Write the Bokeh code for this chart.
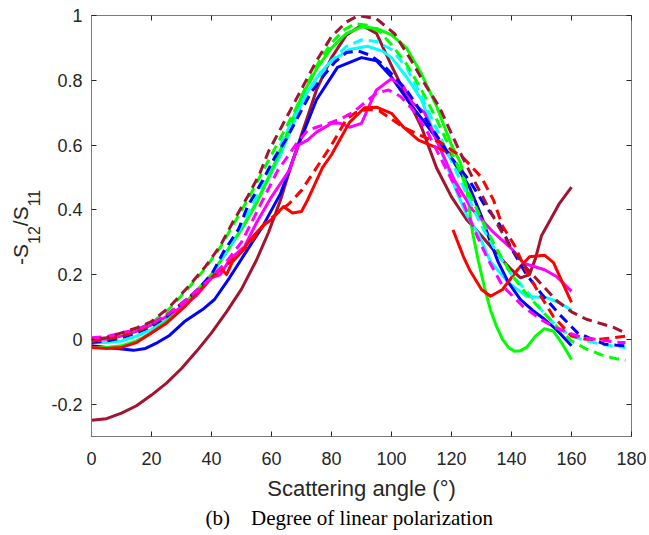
from bokeh.plotting import figure
from bokeh.models import LinearAxis, FixedTicker, Range1d, Title, Div
from bokeh.layouts import row
from bokeh.embed import file_html
from bokeh.resources import INLINE

nan = float("nan")

# ---------------- data ----------------
X_TICKS = [0, 20, 40, 60, 80, 100, 120, 140, 160, 180]
Y_TICKS = [-0.2, 0, 0.2, 0.4, 0.6, 0.8, 1.0]
Y_TICK_LABELS = ["-0.2", "0", "0.2", "0.4", "0.6", "0.8", "1"]

# solid curves (0-160 deg)
maroon_solid_x = [0, 5, 10, 15, 20, 25, 30, 35, 40, 45, 50, 55, 59, 63, 67, 71, 75, 80, 85, 90, 95, 100, 105, 110, 115, 120, 125, 130, 135, 140, 143, 146, 148, 150, 153, 156, 160]
maroon_solid_y = [-0.25, -0.245, -0.228, -0.205, -0.172, -0.135, -0.09, -0.037, 0.02, 0.085, 0.155, 0.245, 0.33, 0.43, 0.55, 0.66, 0.77, 0.87, 0.94, 0.97, 0.945, 0.845, 0.75, 0.655, 0.53, 0.44, 0.37, 0.32, 0.265, 0.215, 0.19, 0.2, 0.25, 0.32, 0.37, 0.42, 0.47]

green_solid_x = [0, 5, 10, 15, 20, 25, 30, 35, 40, 45, 50, 55, 60, 65, 70, 75, 80, 85, 90, 95, 100, 105, 110, 115, 120, 123, 125, 127, 129, 131, 133, 135, 137, 139, 141, 143, 145, 148, 151, 154, 157, 160]
green_solid_y = [-0.025, -0.025, -0.02, -0.005, 0.02, 0.055, 0.1, 0.15, 0.2, 0.27, 0.34, 0.42, 0.52, 0.63, 0.75, 0.835, 0.9, 0.945, 0.965, 0.96, 0.94, 0.9, 0.82, 0.72, 0.6, 0.545, 0.47, 0.33, 0.24, 0.16, 0.09, 0.04, 0.0, -0.025, -0.037, -0.035, -0.025, 0.01, 0.033, 0.025, -0.015, -0.062]

blue_solid_x = [0, 5, 10, 14, 18, 22, 26, 31, 37, 41, 46, 52, 57, 63, 69, 75, 82, 90, 95, 100, 106, 113, 121, 126, 130, 133, 135.5, 139, 143, 147, 151, 155, 160]
blue_solid_y = [-0.02, -0.025, -0.03, -0.034, -0.028, -0.01, 0.012, 0.055, 0.092, 0.123, 0.19, 0.277, 0.348, 0.45, 0.6, 0.74, 0.84, 0.87, 0.86, 0.81, 0.73, 0.646, 0.545, 0.47, 0.38, 0.3, 0.24, 0.175, 0.123, 0.09, 0.062, 0.03, -0.02]

cyan_solid_x = [0, 5, 10, 15, 20, 25, 30, 35, 40, 45, 50, 57, 63, 67, 71, 76, 80, 86, 92, 97, 100, 105, 110, 114, 118.7, 122, 125.3, 128.7, 133, 139, 145, 152, 156, 160]
cyan_solid_y = [-0.01, -0.01, -0.005, 0.01, 0.03, 0.06, 0.1, 0.145, 0.2, 0.27, 0.34, 0.46, 0.57, 0.66, 0.75, 0.82, 0.86, 0.895, 0.905, 0.89, 0.87, 0.81, 0.74, 0.64, 0.53, 0.45, 0.38, 0.33, 0.24, 0.175, 0.133, 0.128, 0.113, 0.09]

magenta_solid_x = [0, 5, 10, 15, 20, 25, 30, 35, 40, 43, 46, 51, 55, 60, 66, 69, 72, 75, 80, 83, 86, 90, 93, 95, 100, 104, 107, 111, 116, 121, 127, 134, 140, 144, 151, 155, 160]
magenta_solid_y = [0.0, 0.0, 0.01, 0.025, 0.045, 0.07, 0.1, 0.135, 0.19, 0.2, 0.246, 0.286, 0.36, 0.44, 0.523, 0.6, 0.615, 0.64, 0.667, 0.667, 0.655, 0.667, 0.73, 0.77, 0.805, 0.78, 0.73, 0.70, 0.594, 0.49, 0.40, 0.33, 0.28, 0.235, 0.215, 0.194, 0.148]

red_solid_x = [0, 5, 10, 15, 20, 25, 31, 36, 40, 43, 45, 47, 50, 53, 57, 60, 64, 67, 70, 72, 74, 77, 80, 83, 86, 91, 95, 100, 104, 109, 113, 117, 120.5, nan, 120.5, 124, 126, 130, 133, 137, 142, 146, 151, 154, 157, 160]
red_solid_y = [-0.025, -0.028, -0.025, -0.01, 0.02, 0.05, 0.1, 0.15, 0.19, 0.22, 0.2, 0.24, 0.27, 0.308, 0.35, 0.37, 0.41, 0.39, 0.395, 0.43, 0.47, 0.53, 0.57, 0.62, 0.67, 0.715, 0.717, 0.698, 0.655, 0.615, 0.60, 0.585, 0.57, nan, 0.338, 0.255, 0.215, 0.154, 0.133, 0.154, 0.215, 0.255, 0.26, 0.237, 0.175, 0.114]

# dashed curves (0-178 deg)
maroon_dash_x = [0, 5, 10, 15, 20, 26, 32, 38, 43, 47, 52, 56, 59, 63, 67, 71, 75, 80, 85, 89, 95, 101, 106, 111, 116, 119, 123, 127, 131, 135, 140, 145, 150, 155, 160, 165, 170, 174, 178]
maroon_dash_y = [0.0, 0.005, 0.02, 0.035, 0.055, 0.1, 0.16, 0.225, 0.29, 0.36, 0.44, 0.51, 0.58, 0.65, 0.72, 0.79, 0.86, 0.935, 0.98, 1.0, 0.99, 0.944, 0.87, 0.79, 0.717, 0.655, 0.575, 0.50, 0.43, 0.36, 0.28, 0.22, 0.17, 0.12, 0.085, 0.062, 0.048, 0.037, 0.02]

green_dash_x = [0, 5, 10, 15, 20, 26, 32, 38, 43, 47, 52, 56, 60, 64, 68, 72, 76, 80, 84, 88, 92, 96, 100, 105, 110, 115, 120, 125, 130, 135, 140, 145, 150, 155, 160, 165, 170, 174, 178]
green_dash_y = [-0.005, 0.0, 0.015, 0.03, 0.05, 0.095, 0.155, 0.22, 0.285, 0.35, 0.43, 0.5, 0.57, 0.64, 0.71, 0.79, 0.86, 0.915, 0.955, 0.975, 0.97, 0.95, 0.91, 0.85, 0.77, 0.68, 0.58, 0.47, 0.37, 0.28, 0.2, 0.14, 0.09, 0.04, -0.005, -0.03, -0.048, -0.058, -0.065]

cyan_dash_x = [0, 5, 10, 15, 20, 25, 30, 35, 40, 45, 50, 55, 60, 65, 70, 75, 80, 85, 90, 95, 100, 105, 110, 115, 120, 125, 130, 135, 140, 145, 150, 155, 160, 165, 170, 175, 178]
cyan_dash_y = [-0.005, 0.0, 0.01, 0.02, 0.04, 0.07, 0.11, 0.15, 0.2, 0.27, 0.35, 0.44, 0.54, 0.64, 0.73, 0.8, 0.86, 0.905, 0.925, 0.92, 0.895, 0.84, 0.75, 0.65, 0.55, 0.45, 0.35, 0.27, 0.2, 0.15, 0.09, 0.04, 0.01, -0.005, -0.015, -0.022, -0.025]

blue_dash_x = [0, 5, 10, 15, 20, 25, 30, 35, 40, 44, 49, 52, 57, 61, 65, 69, 73, 77, 81, 85, 89, 93, 97, 101, 105, 110, 115, 120, 126, 131, 136, 140, 145, 150, 156, 162, 167, 171, 175, 178]
blue_dash_y = [-0.01, -0.005, 0.005, 0.02, 0.04, 0.07, 0.11, 0.15, 0.2, 0.27, 0.34, 0.41, 0.49, 0.56, 0.62, 0.69, 0.76, 0.81, 0.855, 0.886, 0.89, 0.877, 0.85, 0.81, 0.77, 0.7, 0.63, 0.56, 0.49, 0.415, 0.355, 0.28, 0.2, 0.14, 0.077, 0.02, 0.0, -0.015, -0.018, -0.02]

magenta_dash_x = [0, 5, 10, 15, 20, 25, 30, 35, 40, 45, 50, 56, 62, 68, 72, 75, 79, 83, 87, 91, 95, 99, 103, 107, 112, 118, 124, 128, 132, 137, 144, 150, 155, 159, 164, 168, 172, 176, 178]
magenta_dash_y = [0.005, 0.008, 0.02, 0.03, 0.05, 0.075, 0.11, 0.15, 0.19, 0.24, 0.3, 0.41, 0.52, 0.6, 0.645, 0.655, 0.667, 0.68, 0.7, 0.73, 0.76, 0.77, 0.75, 0.71, 0.64, 0.53, 0.42, 0.33, 0.25, 0.165, 0.1, 0.06, 0.035, 0.02, 0.005, 0.0, -0.005, -0.01, -0.01]

red_dash_x = [0, 5, 10, 15, 20, 25, 30, 35, 40, 45, 50, 54, 58, 62, 66, 70, 75, 80, 85, 88, 92, 96, 100, 104, 108, 112, 116, 120, 124, 127, 130, 134, 137, 141, 145, 149, 154, 160, 165, 169, 174, 178]
red_dash_y = [-0.005, 0.0, 0.01, 0.025, 0.045, 0.075, 0.11, 0.15, 0.19, 0.23, 0.27, 0.31, 0.36, 0.39, 0.42, 0.46, 0.53, 0.6, 0.68, 0.7, 0.71, 0.705, 0.68, 0.655, 0.637, 0.62, 0.61, 0.585, 0.56, 0.53, 0.50, 0.43, 0.35, 0.29, 0.21, 0.145, 0.07, 0.01, 0.0, 0.0, 0.005, 0.01]

MAROON = "#A2142F"
RED = "#FF0000"
GREEN = "#00FF00"
BLUE = "#0000FF"
CYAN = "#00FFFF"
MAGENTA = "#FF00FF"

TEXT = "#262626"
AXIS = "#7a7a7a"
FONT = "Liberation Sans"
NB = "\u00a0"

LABEL_W = 45  # width of the y-label column

# ---------------- figure ----------------
p = figure(width=649 - LABEL_W, height=535, x_range=Range1d(0, 180), y_range=Range1d(-0.3, 1.0),
           output_backend="svg", toolbar_location=None,
           min_border_left=91 - LABEL_W, min_border_right=18, min_border_top=15, min_border_bottom=99)
p.margin = 0
p.background_fill_color = "white"
p.border_fill_color = "white"
p.outline_line_color = AXIS
p.outline_line_width = 1
p.xgrid.visible = False
p.ygrid.visible = False

def style_axis(ax):
    ax.axis_line_color = AXIS
    ax.major_tick_line_color = TEXT
    ax.major_tick_in = 5
    ax.major_tick_out = 0
    ax.minor_tick_line_color = None
    ax.major_label_text_color = TEXT
    ax.major_label_text_font = FONT
    ax.major_label_text_font_size = "18px"

xa = p.xaxis[0]
ya = p.yaxis[0]
xa.ticker = FixedTicker(ticks=X_TICKS)
ya.ticker = FixedTicker(ticks=Y_TICKS)
ya.major_label_overrides = {t: s for t, s in zip(Y_TICKS, Y_TICK_LABELS)}
style_axis(xa)
style_axis(ya)
xa.major_label_standoff = 15
ya.major_label_standoff = 9
xa.axis_label = "Scattering angle (°)"
xa.axis_label_text_font = FONT
xa.axis_label_text_font_size = "22px"
xa.axis_label_text_font_style = "normal"
xa.axis_label_text_color = TEXT
xa.axis_label_standoff = 8

# ticks on the top and right edges of the box (no labels)
top = LinearAxis(ticker=FixedTicker(ticks=X_TICKS))
style_axis(top)
top.axis_line_color = None
top.major_label_overrides = {t: "" for t in X_TICKS}
top.major_label_standoff = 0
p.add_layout(top, "above")
right = LinearAxis(ticker=FixedTicker(ticks=Y_TICKS))
style_axis(right)
right.axis_line_color = None
right.major_label_overrides = {t: "" for t in Y_TICKS}
right.major_label_standoff = 0
p.add_layout(right, "right")

# caption below the axis label
caption = Title(text="(b)" + NB * 4 + "Degree of linear polarization", align="left", offset=114,
                standoff=0, text_font="Liberation Serif", text_font_size="21px",
                text_font_style="normal", text_color="black")
p.add_layout(caption, "below")

LW = 3
DASH = "10 6"
p.line(maroon_solid_x, maroon_solid_y, line_color=MAROON, line_width=LW, line_join="round")
p.line(cyan_solid_x, cyan_solid_y, line_color=CYAN, line_width=LW, line_join="round")
p.line(blue_solid_x, blue_solid_y, line_color=BLUE, line_width=LW, line_join="round")
p.line(green_solid_x, green_solid_y, line_color=GREEN, line_width=LW, line_join="round")
p.line(magenta_solid_x, magenta_solid_y, line_color=MAGENTA, line_width=LW, line_join="round")
p.line(red_solid_x, red_solid_y, line_color=RED, line_width=LW, line_join="round")

p.line(cyan_dash_x, cyan_dash_y, line_color=CYAN, line_width=LW, line_dash=DASH)
p.line(blue_dash_x, blue_dash_y, line_color=BLUE, line_width=LW, line_dash=DASH)
p.line(green_dash_x, green_dash_y, line_color=GREEN, line_width=LW, line_dash=DASH)
p.line(red_dash_x, red_dash_y, line_color=RED, line_width=LW, line_dash=DASH)
p.line(magenta_dash_x, magenta_dash_y, line_color=MAGENTA, line_width=LW, line_dash=DASH)
p.line(maroon_dash_x, maroon_dash_y, line_color=MAROON, line_width=LW, line_dash=DASH, line_dash_offset=8)

# y-axis label "-S12/S11" with real subscripts, rotated to read upwards
sub_css = "font-size:16px; vertical-align:-12px; line-height:0;"
ylabel_html = (
    '<div style="position:absolute; left:9px; top:265px; transform:rotate(-90deg); '
    "transform-origin:0 0; white-space:nowrap; font-family:'Liberation Sans'; "
    'font-size:21px; line-height:normal; color:#262626;">'
    f'-S<sub style="{sub_css}">12</sub>/S<sub style="{sub_css}">11</sub></div>'
)
ylabel = Div(text=ylabel_html, width=LABEL_W, height=535, margin=0,
             styles={"position": "relative", "overflow": "visible"})

layout = row(ylabel, p, spacing=0)
open("out.html", "w").write(file_html(layout, INLINE))
